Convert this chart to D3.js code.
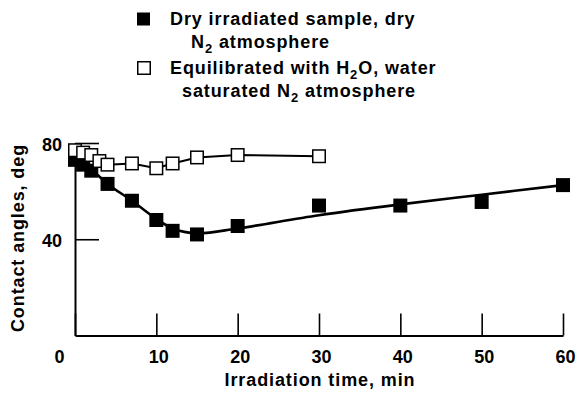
<!DOCTYPE html>
<html>
<head>
<meta charset="utf-8">
<script src="https://cdn.jsdelivr.net/npm/d3@7"></script>
<style>
  body { margin: 0; background: #fff; }
  text { font-family: "Liberation Sans", Arial, sans-serif; font-weight: bold; fill: #000; }
</style>
</head>
<body>
<div class="container"></div>
<script>
const width = 581;
const height = 401;

// dry irradiated sample (filled squares)
const dryTime = [0, 1, 2, 4, 7, 10, 12, 15, 20, 30, 40, 50, 60];
const dryAngle = [73, 71, 68.5, 63, 56, 48, 43.5, 42, 45.5, 54, 54, 55.5, 62.5];
// smooth curve drawn through the dry series
const fitTime = [0, 2, 4, 7, 10, 12, 15, 20, 30, 40, 50, 60];
const fitAngle = [73, 69, 63, 56, 48.5, 44.5, 42.5, 44.5, 50, 54.5, 58.5, 62.5];
// equilibrated with water (open squares)
const wetTime = [0, 1, 2, 3, 4, 7, 10, 12, 15, 20, 30];
const wetAngle = [77, 76, 75, 72.5, 71, 71.5, 69.5, 71.5, 74, 75, 74.5];

const xTicks = [0, 10, 20, 30, 40, 50, 60];
const yTicks = [40, 80];

const svg = d3.select(".container")
    .append("svg")
    .attr("width", width)
    .attr("height", height);

const x = d3.scaleLinear().domain([0, 60]).range([75, 563]);
const y = d3.scaleLinear().domain([0, 80]).range([335.5, 143]);

const xAxis = svg.append("g")
    .attr("transform", `translate(0,${y(0)})`)
    .call(d3.axisBottom(x).tickValues(xTicks).tickSizeInner(-22).tickSizeOuter(0).tickPadding(15));

const yAxis = svg.append("g")
    .attr("transform", `translate(${x(0)},0)`)
    .call(d3.axisLeft(y).tickValues(yTicks).tickSizeInner(-24).tickSizeOuter(0).tickPadding(13));

[xAxis, yAxis].forEach(ax => {
    ax.select(".domain").attr("stroke", "#000").attr("stroke-width", 2);
    ax.selectAll(".tick line").attr("stroke", "#000").attr("stroke-width", 1.6);
    ax.selectAll(".tick text")
        .attr("font-family", "Liberation Sans, Arial, sans-serif")
        .attr("font-weight", "bold")
        .attr("font-size", 18)
        .attr("fill", "#000");
});
xAxis.selectAll(".tick text").attr("dx", d => d == 0 ? -16 : 2);
yAxis.selectAll(".tick text").attr("dy", "0.4em");

// axis titles
svg.append("text")
    .attr("x", 320)
    .attr("y", 386)
    .attr("text-anchor", "middle")
    .attr("font-size", 18)
    .attr("letter-spacing", 0.9)
    .text("Irradiation time, min");

svg.append("text")
    .attr("transform", "translate(24,238) rotate(-90)")
    .attr("text-anchor", "middle")
    .attr("font-size", 18)
    .attr("letter-spacing", 0.9)
    .text("Contact angles, deg");

// lines
const fitLine = d3.line()
    .x((d, i) => x(fitTime[i]))
    .y(d => y(d))
    .curve(d3.curveCatmullRom);

svg.append("path")
    .attr("d", fitLine(fitAngle))
    .attr("fill", "none")
    .attr("stroke", "#000")
    .attr("stroke-width", 2.6);

const wetLine = d3.line()
    .x((d, i) => x(wetTime[i]))
    .y(d => y(d));

svg.append("path")
    .attr("d", wetLine(wetAngle))
    .attr("fill", "none")
    .attr("stroke", "#000")
    .attr("stroke-width", 2);

const s = 14;

svg.append("g").selectAll("rect")
    .data(dryAngle)
    .enter()
    .append("rect")
    .attr("x", (d, i) => x(dryTime[i]) - s / 2)
    .attr("y", d => y(d) - s / 2)
    .attr("width", s)
    .attr("height", s)
    .attr("fill", "#000");

svg.append("g").selectAll("rect")
    .data(wetAngle)
    .enter()
    .append("rect")
    .attr("x", (d, i) => x(wetTime[i]) - s / 2 + 0.75)
    .attr("y", d => y(d) - s / 2 + 0.75)
    .attr("width", s - 1.5)
    .attr("height", s - 1.5)
    .attr("fill", "#fff")
    .attr("stroke", "#000")
    .attr("stroke-width", 1.5);

// legend
const legend = svg.append("g");

legend.append("rect")
    .attr("x", 137).attr("y", 12.5)
    .attr("width", 13).attr("height", 13)
    .attr("fill", "#000");

legend.append("rect")
    .attr("x", 137.75).attr("y", 61.75)
    .attr("width", 12.5).attr("height", 12.5)
    .attr("fill", "#fff")
    .attr("stroke", "#000")
    .attr("stroke-width", 1.5);

function legendLine(xp, yp, parts) {
    const t = legend.append("text")
        .attr("x", xp)
        .attr("y", yp)
        .attr("font-size", 18)
        .attr("letter-spacing", 0.9);
    let shift = 0;
    parts.forEach(p => {
        if (p.sub) {
            t.append("tspan").attr("y", yp + 5).attr("font-size", 13).text(p.sub);
            shift = 1;
        } else {
            const ts = t.append("tspan").text(p.txt);
            if (shift) ts.attr("y", yp);
            shift = 0;
        }
    });
}

legendLine(170, 25, [{txt: "Dry irradiated sample, dry"}]);
legendLine(191, 48, [{txt: "N"}, {sub: "2"}, {txt: " atmosphere"}]);
legendLine(170, 74, [{txt: "Equilibrated with H"}, {sub: "2"}, {txt: "O, water"}]);
legendLine(182, 97, [{txt: "saturated N"}, {sub: "2"}, {txt: " atmosphere"}]);
</script>
</body>
</html>
